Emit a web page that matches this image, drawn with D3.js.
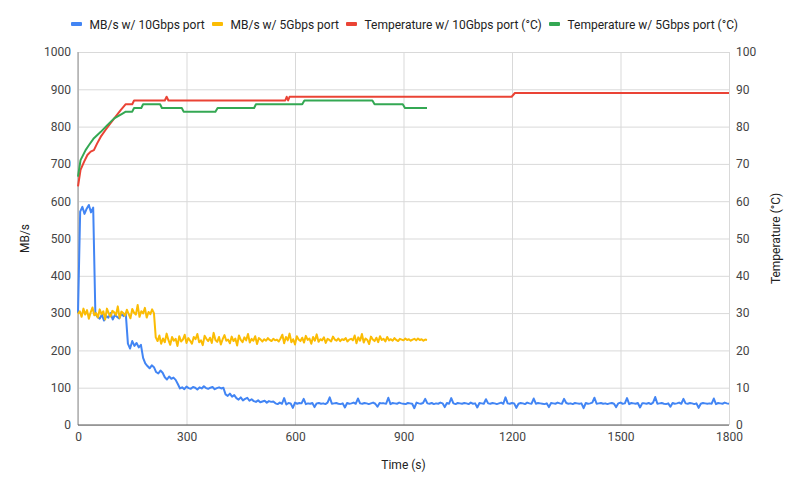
<!DOCTYPE html>
<html>
<head>
<meta charset="utf-8">
<script src="https://cdn.jsdelivr.net/npm/d3@7"></script>
<style>
  html, body { margin: 0; padding: 0; background: #fff; }
  svg { display: block; font-family: Roboto, Arial, sans-serif; }
</style>
</head>
<body>
<svg id="chart" width="800" height="493"></svg>
<script>
// ---------- DATA ----------
const xTicks = [0, 300, 600, 900, 1200, 1500, 1800];
const leftTicks = [0, 100, 200, 300, 400, 500, 600, 700, 800, 900, 1000];
const rightTicks = [0, 10, 20, 30, 40, 50, 60, 70, 80, 90, 100];

const seriesNames = ["MB/s w/ 10Gbps port", "MB/s w/ 5Gbps port", "Temperature w/ 10Gbps port (°C)", "Temperature w/ 5Gbps port (°C)"];

// MB/s with 10Gbps port, one sample every 6 s (0..1800 s)
const speed10Step = 6;
const speed10 = [
  300,
  572, 585, 566, 580, 590, 570, 583,
  298, 290, 285, 296, 280, 292, 288, 300, 283, 295, 290, 286, 298, 292, 300,
  218, 205, 225, 212, 220, 208, 215,
  180, 165,
  158, 152, 160, 155,
  142, 138, 146, 140,
  128, 122, 130, 124, 127, 121,
  110,
  98, 101, 96, 103, 99, 97, 102, 100, 95, 101, 98, 104, 99, 97, 100, 102, 96, 99, 101, 98, 100,
  82, 78, 84, 76, 80,
  72, 68, 74, 66, 70, 73, 65, 69,
  64, 62, 66, 61, 63, 65, 60, 64, 62, 63,
  58, 56, 60, 57, 72, 55, 59, 58, 46, 60,
  57, 59, 58, 70, 56, 58, 57, 59, 48, 58,
  59, 57, 58, 56, 60, 74, 57, 58, 59, 57,
  56, 58, 47, 59, 57, 58, 60, 57, 71, 58,
  57, 59, 58, 56, 58, 60, 57, 49, 59, 58,
  58, 57, 73, 56, 59, 58, 57, 60, 58, 57,
  56, 59, 58, 57, 45, 60, 58, 57, 59, 70,
  58, 57, 59, 56, 58, 57, 60, 58, 48, 59,
  57, 72, 58, 56, 59, 58, 57, 59, 58, 56,
  60, 57, 58, 47, 59, 58, 57, 69, 58, 57,
  59, 58, 56, 58, 60, 57, 74, 58, 57, 59,
  58, 46, 57, 59, 58, 56, 60, 58, 57, 71,
  57, 59, 58, 57, 56, 58, 48, 59, 58, 57,
  60, 58, 57, 70, 59, 57, 58, 56, 59, 58,
  57, 58, 45, 59, 57, 58, 60, 73, 57, 58,
  59, 57, 58, 56, 58, 59, 57, 48, 58, 60,
  57, 58, 72, 56, 59, 58, 57, 59, 47, 58,
  58, 57, 59, 56, 60, 75, 57, 58, 59, 57,
  56, 58, 49, 59, 57, 58, 60, 57, 70, 58,
  57, 59, 58, 56, 58, 46, 57, 59, 58, 57,
  58, 57, 71, 56, 59, 58, 57, 60, 58, 57
];

// MB/s with 5Gbps port, one sample every 5 s (0..965 s)
const speed5Step = 5;
const speed5 = [
  298, 305, 290, 312, 296, 308, 285, 302, 315, 294,
  300, 288, 310, 297, 305, 283, 312, 299, 291, 306,
  302, 295, 318, 287, 304, 300, 293, 309, 298, 286,
  311, 301, 296, 322, 290, 305, 299, 314, 288, 303,
  297, 310, 300,
  235, 225, 240, 218, 232, 222, 245, 228, 215, 236,
  226, 231, 212, 238, 224, 229, 242, 220, 233, 226,
  218, 236, 230, 244, 222, 227, 214, 239, 231, 225,
  234, 220, 247, 228, 223, 236, 216, 230, 241, 226,
  229, 219, 237, 225, 232, 213, 240, 228, 222, 235,
  227, 244, 221, 231, 226, 238, 217, 233, 229, 224,
  230, 226, 233, 228, 225, 231, 227, 229, 224, 232,
  242, 219, 236, 227, 245, 222, 230, 216, 238, 229,
  225, 234, 221, 239, 228, 232, 218, 236, 226, 243,
  223, 230, 227, 235, 220, 231, 228, 224, 237, 229,
  226, 232, 225, 230, 228, 233, 224, 229, 231, 227,
  240, 219, 235, 226, 244, 221, 232, 228, 217, 237,
  229, 225, 234, 222, 238, 228, 231, 224, 236, 227,
  230, 226, 233, 228, 225, 231, 229, 227, 232, 228,
  230, 226, 229, 231, 227, 232, 228, 230, 226, 229,
  228
];

// Temperature with 10Gbps port (°C)
const temp10Time = [0, 7, 17, 26, 35, 44, 53, 63, 76, 90, 104, 118, 132, 150, 155, 240, 245, 250, 573, 577, 581, 585, 592, 1199, 1208, 1800];
const temp10     = [64, 68.4, 70.6, 72.4, 73.3, 73.7, 75.5, 77.3, 79.1, 80.9, 82.7, 84.4, 86, 86, 87, 87, 88, 87, 87, 88, 87, 88, 88, 88, 89, 89];

// Temperature with 5Gbps port (°C)
const temp5Time = [0, 7, 21, 30, 44, 63, 81, 100, 123, 132, 150, 155, 175, 180, 227, 232, 287, 292, 380, 386, 487, 492, 620, 626, 814, 820, 898, 904, 965];
const temp5     = [66.6, 71, 73.7, 75, 76.9, 78.6, 80.4, 82.2, 83.5, 84, 84, 85, 85, 86, 86, 85, 85, 84, 84, 85, 85, 86, 86, 87, 87, 86, 86, 85, 85];

const colors = ["#4285F4", "#FBBC04", "#EA4335", "#34A853"];

// ---------- CHART ----------
(function () {
const svg = d3.select("#chart");
const W = 800, H = 493;
const pLeft = 78, pRight = 729, pTop = 52, pBottom = 425;

const x = d3.scaleLinear().domain([0, 1800]).range([pLeft, pRight]);
const yL = d3.scaleLinear().domain([0, 1000]).range([pBottom, pTop]);
const yR = d3.scaleLinear().domain([0, 100]).range([pBottom, pTop]);

svg.append("rect").attr("width", W).attr("height", H).attr("fill", "#fff");

// horizontal gridlines
svg.append("g")
  .attr("transform", `translate(${pLeft},0)`)
  .call(d3.axisLeft(yL).tickValues(leftTicks).tickSize(-(pRight - pLeft)).tickFormat(""))
  .call(g => g.select(".domain").remove())
  .call(g => g.selectAll("line").attr("stroke", "#d9d9d9"));

// vertical gridlines
svg.append("g")
  .attr("transform", `translate(0,${pBottom})`)
  .call(d3.axisBottom(x).tickValues(xTicks).tickSize(-(pBottom - pTop)).tickFormat(""))
  .call(g => g.select(".domain").remove())
  .call(g => g.selectAll("line").attr("stroke", "#d9d9d9"));

// left baseline (x = 0)
svg.append("line").attr("x1", x(0)).attr("x2", x(0)).attr("y1", pTop).attr("y2", pBottom)
  .attr("stroke", "#9e9e9e").attr("stroke-width", 1.2);

// axis labels
const tickStyle = g => {
  g.select(".domain").remove();
  g.selectAll(".tick line").remove();
  g.selectAll("text").attr("fill", "#444").attr("font-size", 12).attr("font-family", "Roboto, Arial, sans-serif");
};

svg.append("g").attr("transform", `translate(${pLeft},0)`)
  .call(d3.axisLeft(yL).tickValues(leftTicks).tickSize(0).tickPadding(7).tickFormat(d3.format("d")))
  .call(tickStyle);

svg.append("g").attr("transform", `translate(${pRight},0)`)
  .call(d3.axisRight(yR).tickValues(rightTicks).tickSize(0).tickPadding(7).tickFormat(d3.format("d")))
  .call(tickStyle);

svg.append("g").attr("transform", `translate(0,${pBottom})`)
  .call(d3.axisBottom(x).tickValues(xTicks).tickSize(0).tickPadding(7).tickFormat(d3.format("d")))
  .call(tickStyle);

// axis titles
svg.append("text").attr("x", x(900)).attr("y", 469).attr("text-anchor", "middle")
  .attr("font-size", 12).attr("fill", "#222").text("Time (s)");
svg.append("text").attr("transform", `translate(29,${(pTop + pBottom) / 2}) rotate(-90)`)
  .attr("text-anchor", "middle").attr("font-size", 12).attr("fill", "#222").text("MB/s");
svg.append("text").attr("transform", `translate(780,${(pTop + pBottom) / 2}) rotate(-90)`)
  .attr("text-anchor", "middle").attr("font-size", 12).attr("fill", "#222").text("Temperature (°C)");

// series
const lineL = d3.line().x(d => x(d[0])).y(d => yL(d[1]));
const lineR = d3.line().x(d => x(d[0])).y(d => yR(d[1]));

const s10 = speed10.map((v, i) => [i * speed10Step, v]);
const s5 = speed5.map((v, i) => [i * speed5Step, v]);
const t10 = temp10Time.map((t, i) => [t, temp10[i]]);
const t5 = temp5Time.map((t, i) => [t, temp5[i]]);

const plot = svg.append("g");
plot.append("path").datum(s10).attr("d", lineL).attr("fill", "none")
  .attr("stroke", colors[0]).attr("stroke-width", 2).attr("stroke-linejoin", "round");
plot.append("path").datum(s5).attr("d", lineL).attr("fill", "none")
  .attr("stroke", colors[1]).attr("stroke-width", 2).attr("stroke-linejoin", "round");
plot.append("path").datum(t10).attr("d", lineR).attr("fill", "none")
  .attr("stroke", colors[2]).attr("stroke-width", 2).attr("stroke-linejoin", "round");
plot.append("path").datum(t5).attr("d", lineR).attr("fill", "none")
  .attr("stroke", colors[3]).attr("stroke-width", 2).attr("stroke-linejoin", "round");

// bottom baseline
svg.append("line").attr("x1", pLeft).attr("x2", pRight).attr("y1", pBottom).attr("y2", pBottom)
  .attr("stroke", "#555").attr("stroke-width", 1.2);

// legend
const legendX = [71, 212, 346, 549];
const legend = svg.append("g");
seriesNames.forEach((name, i) => {
  legend.append("rect").attr("x", legendX[i]).attr("y", 22).attr("width", 11).attr("height", 4)
    .attr("rx", 1).attr("fill", colors[i]);
  legend.append("text").attr("x", legendX[i] + 18.5).attr("y", 28.5)
    .attr("font-size", 12).attr("fill", "#222").text(name);
});
})();
</script>
</body>
</html>
